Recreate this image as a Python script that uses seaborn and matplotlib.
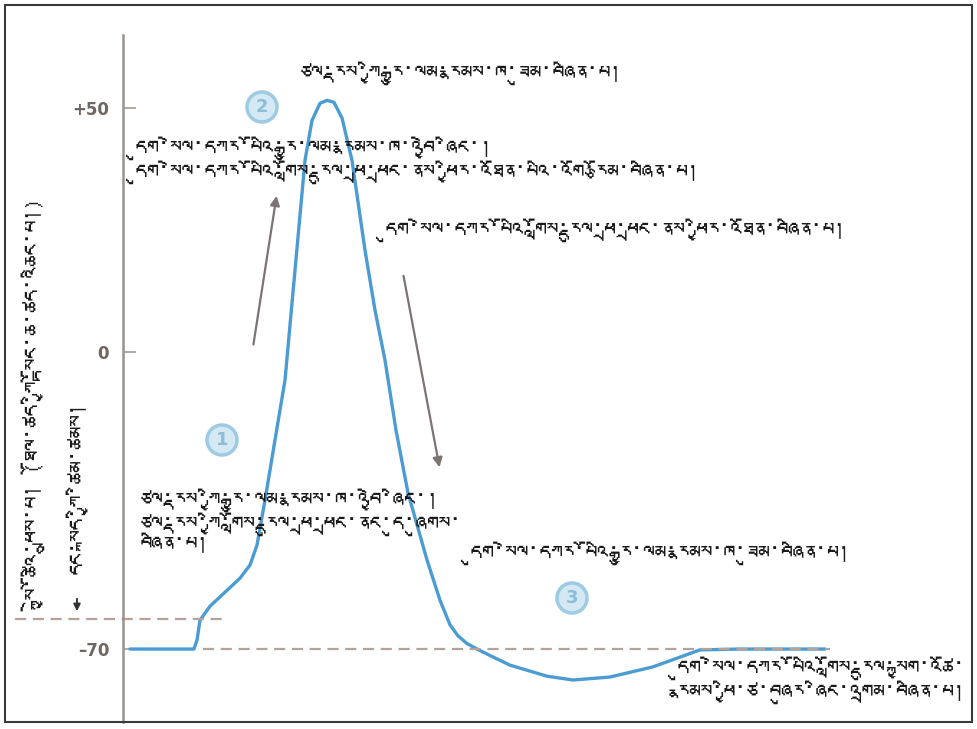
import numpy as np
import pandas as pd
import matplotlib
matplotlib.use('Agg')
import matplotlib.pyplot as plt
from matplotlib import font_manager
from matplotlib.ft2font import FT2Font
from matplotlib.patches import Rectangle, Circle
import seaborn as sns

#%%
# 데이터
time_ms = [0.07, 0.71, 0.74, 0.77, 0.87, 1.02, 1.17, 1.27, 1.34, 1.42, 1.52, 1.62,
           1.72, 1.82, 1.89, 1.97, 2.04, 2.11, 2.19, 2.29, 2.42, 2.52, 2.62, 2.73,
           2.85, 3.04, 3.17, 3.27, 3.35, 3.44, 3.54, 3.72, 3.87, 4.24, 4.50, 4.87,
           5.30, 5.57, 5.77, 6.17, 7.02]
voltage_mv = [-70, -70, -67.9, -63.2, -59.9, -56.6, -53.3, -50.2, -45.5, -34.9, -20.7, -6.6,
              16.8, 39.3, 47.5, 51.0, 51.6, 51.2, 48.0, 39.3, 20.9, 8.6, -1.9, -18.4,
              -33.2, -49.0, -58.5, -64.3, -66.9, -68.7, -70, -72.1, -73.8, -76.4, -77.3, -76.6,
              -74.2, -71.9, -70.2, -70, -70]

y_ticks = [50, 0, -70]
y_tick_labels = ['+50', '0', '\u201370']
threshold_mv = -63
resting_mv = -70

label_peak = 'ཙལ་རྡས་ཀྱི་རྒྱུ་ལམ་རྣམས་ཁ་ཟུམ་བཞིན་པ།'
label_k_open = ('དུག་སེལ་དཀར་པོའི་རྒྱུ་ལམ་རྣམས་ཁ་འབྱེ་ཞིང་།\n'
                'དུག་སེལ་དཀར་པོའི་གློས་རྡུལ་ཕྲ་ཕྲང་ནས་ཕྱིར་འཐོན་པའི་འགོ་རྩོམ་བཞིན་པ།')
label_k_out = 'དུག་སེལ་དཀར་པོའི་གློས་རྡུལ་ཕྲ་ཕྲང་ནས་ཕྱིར་འཐོན་བཞིན་པ།'
label_na_open = ('ཙལ་རྡས་ཀྱི་རྒྱུ་ལམ་རྣམས་ཁ་འབྱེ་ཞིང་།\n'
                 'ཙལ་རྡས་ཀྱི་གློས་རྡུལ་ཕྲ་ཕྲང་ནང་དུ་ཞུགས་\n'
                 'བཞིན་པ།')
label_k_close = 'དུག་སེལ་དཀར་པོའི་རྒྱུ་ལམ་རྣམས་ཁ་ཟུམ་བཞིན་པ།'
label_pump = ('དུག་སེལ་དཀར་པོའི་གློས་རྡུལ་སྐྱག་འཚོ་\n'
              'རྣམས་ཕྱི་ཙ་བཞུར་ཞིང་འགྲམ་བཞིན་པ།')
ylabel_1 = 'སྐྱེ་ཚོའི་ཕྲུས་པ། (ཐོལ་ཚད་ཀྱི་སྟོང་ཆ་ཚད་འཆིང་པ།)'
ylabel_2 = 'དང་སྐད་ཀྱི་ཚིམ་ཚམས།'

df = pd.DataFrame({'time': time_ms, 'mv': voltage_mv})

#%%
# 폰트 (티베트 문자 지원 폰트 찾기)
sns.set_style('white')
tib_font = None
for f in font_manager.fontManager.ttflist:
    try:
        if 0x0F40 in FT2Font(f.fname).get_charmap():
            tib_font = f.name
            break
    except Exception:
        pass
fams = ['DejaVu Sans']
if tib_font:
    fams = [tib_font, 'DejaVu Sans']
plt.rcParams['font.family'] = fams

#%%
W, H = 977, 729
def px(x, y):
    return x / W, 1 - y / H

fig = plt.figure(figsize=(W / 100, H / 100), dpi=100)
ax = fig.add_axes([123 / W, 7 / H, (972 - 123) / W, (722 - 35) / H])

# 0 위/아래 눈금 간격이 달라서 구간별 선형 스케일
def fwd(v):
    v = np.asarray(v, dtype=float)
    return np.where(v >= 0, v * 244 / 50, v * 297 / 70)

def inv(u):
    u = np.asarray(u, dtype=float)
    return np.where(u >= 0, u * 50 / 244, u * 70 / 297)

ax.set_yscale('function', functions=(fwd, inv))

blue = '#4b9cd3'
dash_c = '#b3a39a'
sns.lineplot(data=df, x='time', y='mv', ax=ax, color=blue, linewidth=2.4, sort=False)

ax.hlines(threshold_mv, -1.08, 0.99, colors=dash_c, linestyles=(0, (5, 3)), linewidth=1.6, clip_on=False)
ax.hlines(resting_mv, 0.80, 7.07, colors=dash_c, linestyles=(0, (5, 3)), linewidth=1.6)

ax.set_xlim(0, 8.49)
ax.set_ylim(-87.2, 65.0)
for s in ['top', 'right', 'bottom']:
    ax.spines[s].set_visible(False)
ax.spines['left'].set_color('#9c918b')
ax.spines['left'].set_linewidth(1.8)
ax.set_xticks([])
ax.set_yticks(y_ticks)
ax.set_yticklabels(y_tick_labels, family='DejaVu Sans', fontsize=12, fontweight='bold', color='#6f6662')
ax.tick_params(axis='y', direction='in', length=9, width=1.5, color='#b5aaa4', pad=10, left=True)
ax.set_xlabel('')
ax.set_ylabel('')
ax.patch.set_alpha(0)

# 화살표
arrow_c = '#7d7472'
arrows = [((1.30, 1.0), (1.54, 32.6)), ((2.80, 16.2), (3.17, -27.8))]
for tail, head in arrows:
    ax.annotate('', xy=head, xytext=tail,
                arrowprops=dict(arrowstyle='-|>', color=arrow_c, lw=1.6, mutation_scale=14))

# 번호 원
circles = [('1', 222, 440), ('2', 262, 107), ('3', 572, 598)]
for num, cx, cy in circles:
    fx, fy = px(cx, cy)
    fig.patches.append(Circle((cx, H - cy), 15, transform=None, facecolor='#d4e9f4',
                              edgecolor='#9ccbe3', linewidth=2.5))
    fig.text(fx, fy, num, ha='center', va='center', fontsize=13, fontweight='bold',
             color='#8cbdd9', family='DejaVu Sans')

# 텍스트
tk = dict(fontsize=16.5, color='#1a1a1a', linespacing=1.0)
fig.text(*px(300, 73), label_peak, ha='left', va='center', **tk)
fig.text(*px(135, 160), label_k_open, ha='left', va='center', **tk)
fig.text(*px(385, 230), label_k_out, ha='left', va='center', **tk)
fig.text(*px(140, 522), label_na_open, ha='left', va='center', **tk)
fig.text(*px(470, 553), label_k_close, ha='left', va='center', **tk)
fig.text(*px(965, 680), label_pump, ha='right', va='center', multialignment='right', **tk)

fig.text(*px(45, 410), ylabel_1, ha='center', va='center', rotation=90, **tk)
fig.text(*px(77, 488), ylabel_2, ha='center', va='center', rotation=90, **tk)
fig.patches.append(matplotlib.patches.FancyArrowPatch(
    px(77, 596), px(77, 614), transform=fig.transFigure, arrowstyle='-|>',
    color='#333333', lw=1.4, mutation_scale=10))

# 바깥 테두리
fig.patches.append(Rectangle(px(5, 722), (972 - 5) / W, (722 - 5) / H, transform=fig.transFigure,
                             fill=False, edgecolor='#3a3a3a', linewidth=1.5))

fig.savefig('out.png', dpi=100, facecolor='white')
